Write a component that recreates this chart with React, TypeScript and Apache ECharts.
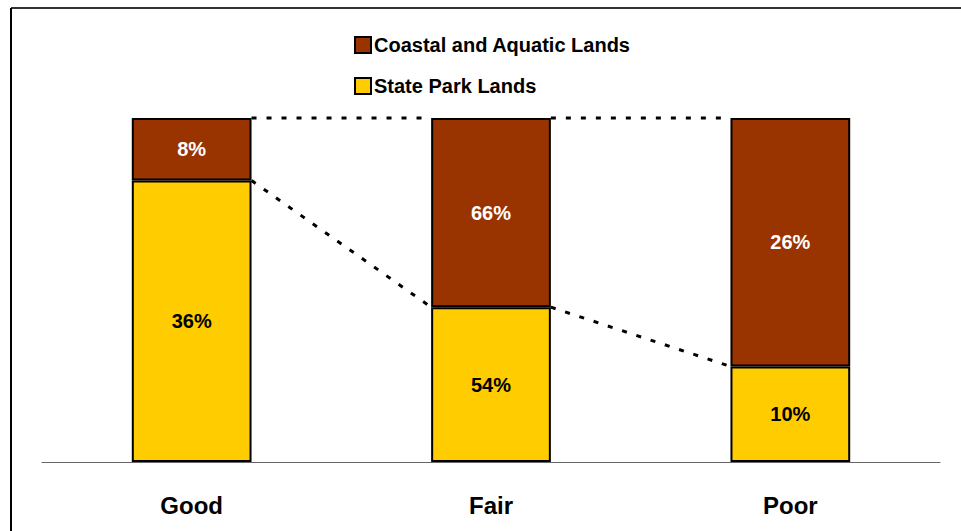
import React, { useEffect, useRef } from "react";
import * as echarts from "echarts";

// Condition categories and the share of each land type in them (percent)
const categories = ["Good", "Fair", "Poor"];
const stateParkValues = [36, 54, 10];
const coastalValues = [8, 66, 26];
const seriesNames = ["Coastal and Aquatic Lands", "State Park Lands"];

const sansFont = "'Liberation Sans', Arial, sans-serif";

export default function App() {
  const ref = useRef<HTMLDivElement>(null);

  useEffect(() => {
    if (!ref.current) return;
    const chart = echarts.init(ref.current, null, { renderer: "svg" });

    // each category is drawn as a 100% column; labels show the raw figures
    const totals = categories.map((_, i) => stateParkValues[i] + coastalValues[i]);
    const stateShare = stateParkValues.map((v, i) => (v / totals[i]) * 100);
    const coastalShare = coastalValues.map((v, i) => (v / totals[i]) * 100);

    const barWidthRatio = 0.4;

    // series lines joining neighbouring columns
    const connectors = categories.slice(0, -1).map((_, i) => [i, stateShare[i], stateShare[i + 1]]);

    chart.setOption({
      animation: false,
      backgroundColor: "#ffffff",
      grid: { left: 42, right: 21, top: 118, bottom: 69, containLabel: false },
      legend: {
        orient: "vertical",
        left: 349,
        top: 30,
        itemWidth: 16,
        itemHeight: 16,
        itemGap: 21,
        icon: "rect",
        data: seriesNames,
        textStyle: { fontFamily: sansFont, fontSize: 20, fontWeight: "bold", color: "#000", padding: [0, 0, 0, -2] },
      },
      xAxis: {
        type: "category",
        data: categories,
        axisLine: { lineStyle: { color: "#666", width: 1 } },
        axisTick: { show: false },
        axisLabel: {
          margin: 31,
          fontFamily: sansFont,
          fontWeight: "bold",
          fontSize: 24,
          color: "#000",
        },
      },
      yAxis: { type: "value", min: 0, max: 100, show: false },
      series: [
        {
          name: seriesNames[1],
          type: "bar",
          stack: "total",
          barWidth: "40%",
          data: stateShare,
          itemStyle: { color: "#FFCC00", borderColor: "#000", borderWidth: 2 },
          label: {
            show: true,
            position: "inside",
            formatter: (p: any) => `${stateParkValues[p.dataIndex]}%`,
            fontFamily: sansFont,
            fontWeight: "bold",
            fontSize: 20,
            color: "#000",
          },
        },
        {
          name: seriesNames[0],
          type: "bar",
          stack: "total",
          barWidth: "40%",
          data: coastalShare,
          itemStyle: { color: "#993300", borderColor: "#000", borderWidth: 2 },
          label: {
            show: true,
            position: "inside",
            formatter: (p: any) => `${coastalValues[p.dataIndex]}%`,
            fontFamily: sansFont,
            fontWeight: "bold",
            fontSize: 20,
            color: "#fff",
          },
        },
        {
          type: "custom",
          silent: true,
          z: 1,
          data: connectors,
          renderItem: (params: any, api: any) => {
            const i = api.value(0);
            const band = api.size([1, 0])[0];
            const half = (band * barWidthRatio) / 2;
            const a = api.coord([i, api.value(1)]);
            const b = api.coord([i + 1, api.value(2)]);
            const topA = api.coord([i, 100]);
            const topB = api.coord([i + 1, 100]);
            const style = { stroke: "#000", lineWidth: 3, lineDash: [5, 10], fill: null };
            return {
              type: "group",
              children: [
                { type: "line", shape: { x1: a[0] + half, y1: a[1], x2: b[0] - half, y2: b[1] }, style },
                { type: "line", shape: { x1: topA[0] + half, y1: topA[1], x2: topB[0] - half, y2: topB[1] }, style },
              ],
            };
          },
        },
      ],
      graphic: [
        { type: "line", shape: { x1: 11, y1: 8, x2: 961, y2: 8 }, style: { stroke: "#333", lineWidth: 2 } },
        { type: "line", shape: { x1: 11, y1: 8, x2: 11, y2: 531 }, style: { stroke: "#000", lineWidth: 2 } },
      ],
    });

    return () => chart.dispose();
  }, []);

  return <div ref={ref} style={{ position: "fixed", left: 0, top: 0, width: 961, height: 531 }} />;
}
